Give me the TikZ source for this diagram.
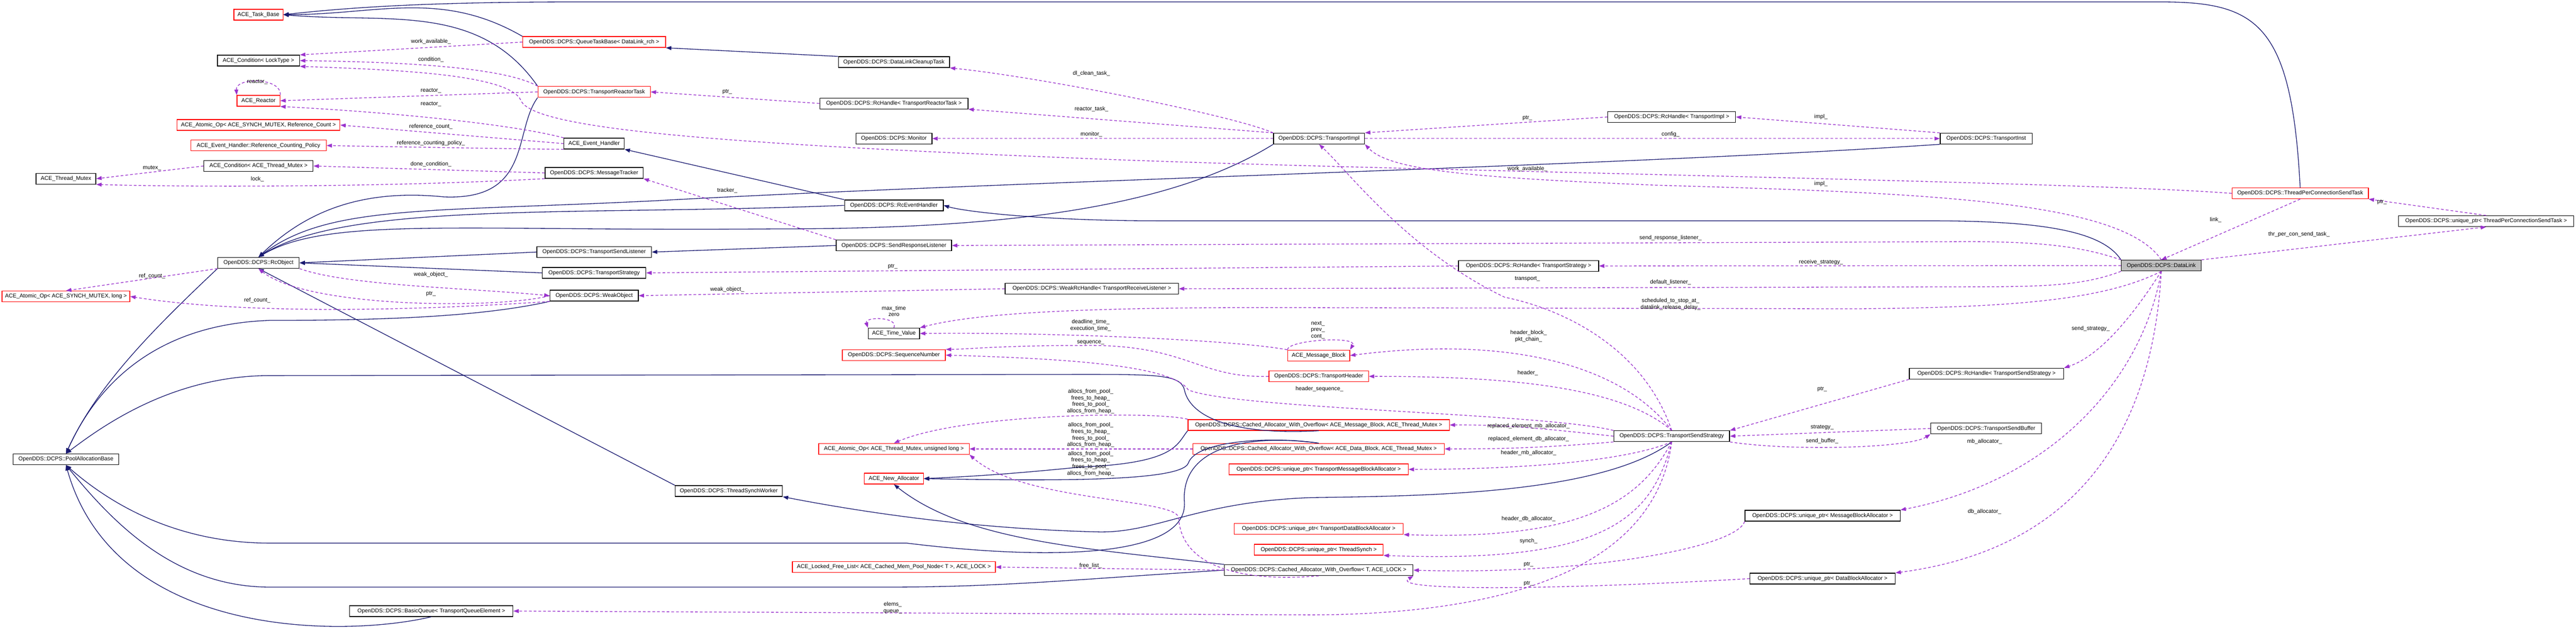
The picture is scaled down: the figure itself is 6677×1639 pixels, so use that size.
\documentclass[tikz,border=0pt]{standalone}
\usepackage{fontspec}
\setmainfont{Liberation Sans}
\usetikzlibrary{arrows.meta}
\definecolor{inhc}{HTML}{191970}
\definecolor{depc}{HTML}{9A32CD}
\begin{document}
\begin{tikzpicture}[x=0.01cm,y=-0.01cm,
  bx/.style={draw=black,line width=0.5pt,minimum height=0.28cm,inner sep=0pt,font=\fontsize{4.1}{4.6}\selectfont,fill=white},
  rbx/.style={bx,draw=red},
  lb/.style={font=\fontsize{4.1}{4.8}\selectfont,align=center,inner sep=0pt},
  inh/.style={draw=inhc,line width=0.5pt,-{Triangle[length=0.14cm,width=0.1cm]}},
  dep/.style={draw=depc,line width=0.5pt,dash pattern=on 2pt off 1.5pt,-{Triangle[length=0.14cm,width=0.1cm]}}]
\useasboundingbox (0,0) rectangle (6677,1639);
% nodes
\node[rbx,minimum width=1.27cm] (taskbase) at (670,38) {ACE\_Task\_Base};
\node[rbx,minimum width=3.70cm] (qtb) at (1540,109) {OpenDDS::DCPS::QueueTaskBase< DataLink\_rch >};
\node[bx,minimum width=2.13cm] (condlock) at (670,157) {ACE\_Condition< LockType >};
\node[rbx,minimum width=1.11cm] (reactor) at (670,261) {ACE\_Reactor};
\node[rbx,minimum width=2.91cm] (trt) at (1540,238) {OpenDDS::DCPS::TransportReactorTask};
\node[rbx,minimum width=4.22cm] (aoref) at (670,324) {ACE\_Atomic\_Op< ACE\_SYNCH\_MUTEX, Reference\_Count >};
\node[rbx,minimum width=3.51cm] (rcp) at (670,377) {ACE\_Event\_Handler::Reference\_Counting\_Policy};
\node[bx,minimum width=1.56cm] (evh) at (1540,372) {ACE\_Event\_Handler};
\node[bx,minimum width=2.83cm] (condtm) at (670,430) {ACE\_Condition< ACE\_Thread\_Mutex >};
\node[bx,minimum width=1.55cm] (tmutex) at (171,463) {ACE\_Thread\_Mutex};
\node[bx,minimum width=2.54cm] (mtracker) at (1540,448) {OpenDDS::DCPS::MessageTracker};
\node[bx,minimum width=2.97cm] (tsl) at (1540,653) {OpenDDS::DCPS::TransportSendListener};
\node[bx,minimum width=2.11cm] (rcobj) at (670,681) {OpenDDS::DCPS::RcObject};
\node[bx,minimum width=2.68cm] (tstrat) at (1540,707) {OpenDDS::DCPS::TransportStrategy};
\node[rbx,minimum width=3.31cm] (aolong) at (171,768) {ACE\_Atomic\_Op< ACE\_SYNCH\_MUTEX, long >};
\node[bx,minimum width=2.29cm] (weakobj) at (1540,766) {OpenDDS::DCPS::WeakObject};
\node[bx,minimum width=2.73cm] (pab) at (171,1190) {OpenDDS::DCPS::PoolAllocationBase};
\node[bx,minimum width=4.23cm] (bq) at (1118,1583) {OpenDDS::DCPS::BasicQueue< TransportQueueElement >};
\node[bx,minimum width=2.88cm] (dlct) at (2317,161) {OpenDDS::DCPS::DataLinkCleanupTask};
\node[bx,minimum width=3.84cm] (rhtrt) at (2317,268) {OpenDDS::DCPS::RcHandle< TransportReactorTask >};
\node[bx,minimum width=1.97cm] (monitor) at (2317,359) {OpenDDS::DCPS::Monitor};
\node[bx,minimum width=2.36cm] (timpl) at (3419,359) {OpenDDS::DCPS::TransportImpl};
\node[bx,minimum width=2.56cm] (rceh) at (2317,532) {OpenDDS::DCPS::RcEventHandler};
\node[bx,minimum width=2.99cm] (srl) at (2317,636) {OpenDDS::DCPS::SendResponseListener};
\node[bx,minimum width=4.49cm] (wrh) at (2830,748) {OpenDDS::DCPS::WeakRcHandle< TransportReceiveListener >};
\node[bx,minimum width=1.33cm] (tv) at (2317,864) {ACE\_Time\_Value};
\node[rbx,minimum width=2.67cm] (seqn) at (2317,920) {OpenDDS::DCPS::SequenceNumber};
\node[rbx,minimum width=1.61cm] (mb) at (3418,921) {ACE\_Message\_Block};
\node[rbx,minimum width=2.58cm] (th) at (3418,975) {OpenDDS::DCPS::TransportHeader};
\node[rbx,minimum width=6.77cm] (camb) at (3418,1101) {OpenDDS::DCPS::Cached\_Allocator\_With\_Overflow< ACE\_Message\_Block, ACE\_Thread\_Mutex >};
\node[rbx,minimum width=6.51cm] (cadb) at (3418,1163) {OpenDDS::DCPS::Cached\_Allocator\_With\_Overflow< ACE\_Data\_Block, ACE\_Thread\_Mutex >};
\node[rbx,minimum width=4.64cm] (uptmba) at (3418,1216) {OpenDDS::DCPS::unique\_ptr< TransportMessageBlockAllocator >};
\node[rbx,minimum width=3.90cm] (aoul) at (2317,1163) {ACE\_Atomic\_Op< ACE\_Thread\_Mutex, unsigned long >};
\node[rbx,minimum width=1.53cm] (newalloc) at (2317,1240) {ACE\_New\_Allocator};
\node[bx,minimum width=2.78cm] (tsw) at (1889,1272) {OpenDDS::DCPS::ThreadSynchWorker};
\node[rbx,minimum width=4.38cm] (uptdba) at (3418,1370) {OpenDDS::DCPS::unique\_ptr< TransportDataBlockAllocator >};
\node[rbx,minimum width=3.34cm] (upts) at (3418,1424) {OpenDDS::DCPS::unique\_ptr< ThreadSynch >};
\node[bx,minimum width=4.89cm] (cat) at (3418,1477) {OpenDDS::DCPS::Cached\_Allocator\_With\_Overflow< T, ACE\_LOCK >};
\node[rbx,minimum width=5.26cm] (lfl) at (2317,1469) {ACE\_Locked\_Free\_List< ACE\_Cached\_Mem\_Pool\_Node< T >, ACE\_LOCK >};
\node[bx,minimum width=3.31cm] (rhti) at (4333,303) {OpenDDS::DCPS::RcHandle< TransportImpl >};
\node[bx,minimum width=2.38cm] (tinst) at (5148,359) {OpenDDS::DCPS::TransportInst};
\node[bx,minimum width=3.63cm] (rhts) at (3962,689) {OpenDDS::DCPS::RcHandle< TransportStrategy >};
\node[bx,minimum width=3.00cm] (tss) at (4333,1130) {OpenDDS::DCPS::TransportSendStrategy};
\node[bx,minimum width=4.00cm] (rhtss) at (5149,968) {OpenDDS::DCPS::RcHandle< TransportSendStrategy >};
\node[bx,minimum width=2.87cm] (tsb) at (5148,1110) {OpenDDS::DCPS::TransportSendBuffer};
\node[bx,minimum width=4.02cm] (upmba) at (4724,1336) {OpenDDS::DCPS::unique\_ptr< MessageBlockAllocator >};
\node[bx,minimum width=3.76cm] (updba) at (4724,1499) {OpenDDS::DCPS::unique\_ptr< DataBlockAllocator >};
\node[rbx,minimum width=3.53cm] (tpcst) at (5962,501) {OpenDDS::DCPS::ThreadPerConnectionSendTask};
\node[bx,minimum width=4.54cm] (uptpcst) at (6444,573) {OpenDDS::DCPS::unique\_ptr< ThreadPerConnectionSendTask >};
\node[bx,minimum width=2.07cm,fill=black!25] (datalink) at (5602,688) {OpenDDS::DCPS::DataLink};
% inheritance
\draw[inh] (qtb.north west) to[out=150,in=0] (taskbase.east);
\draw[inh] (trt.north west) to[out=125,in=-5] (taskbase.east);
\draw[inh] (tpcst.north) .. controls (5940,60) and (5850,5) .. (5600,5) -- (1500,5) .. controls (1100,5) and (900,20) .. (taskbase.east);
\draw[inh] (dlct.north west) -- (qtb.south east);
\draw[inh] (trt.south west) .. controls (1330,340) and (1380,520) .. (1150,510) .. controls (950,490) and (800,540) .. (rcobj.north);
\draw[inh] (rceh.north west) -- (evh.south east);
\draw[inh] (rceh.west) .. controls (1500,560) and (900,520) .. (rcobj.north);
\draw[inh] (timpl.south west) .. controls (3000,560) and (2500,593) .. (2000,593) .. controls (1200,600) and (850,560) .. (rcobj.north);
\draw[inh] (tinst.south west) .. controls (4200,430) and (2600,470) .. (1700,520) .. controls (1100,550) and (850,530) .. (rcobj.north);
\draw[inh] (srl.west) -- (tsl.east);
\draw[inh] (tsl.west) -- (rcobj.east);
\draw[inh] (tstrat.west) -- (rcobj.east);
\draw[inh] (datalink.north west) .. controls (5450,600) and (5300,572) .. (5000,572) -- (3000,572) .. controls (2700,572) and (2500,548) .. (rceh.east);
\draw[inh] (tsw.north west) -- (rcobj.south);
\draw[inh] (rcobj.south west) .. controls (400,850) and (250,1000) .. (pab.north);
\draw[inh] (weakobj.south west) .. controls (1250,820) and (1000,830) .. (700,830) .. controls (400,840) and (250,1000) .. (pab.north);
\draw[inh] (camb.south) .. controls (3150,1130) and (3080,1060) .. (3070,1010) .. controls (3060,970) and (3000,970) .. (2800,970) -- (700,973) .. controls (450,973) and (270,1100) .. (pab.north);
\draw[inh] (cadb.north) .. controls (3250,1125) and (3060,1150) .. (3070,1300) .. controls (3080,1450) and (2700,1450) .. (2350,1407) -- (700,1407) .. controls (450,1407) and (280,1300) .. (pab.south);
\draw[inh] (cat.west) .. controls (2800,1500) and (2600,1521) .. (2300,1521) -- (700,1521) .. controls (450,1521) and (290,1350) .. (pab.south);
\draw[inh] (bq.south) .. controls (900,1650) and (300,1660) .. (pab.south);
\draw[inh] (camb.south west) .. controls (3050,1150) and (3050,1200) .. (2800,1210) .. controls (2600,1230) and (2500,1235) .. (newalloc.east);
\draw[inh] (cadb.north) .. controls (3300,1130) and (3100,1140) .. (3080,1200) .. controls (3060,1250) and (2700,1245) .. (newalloc.east);
\draw[inh] (cat.north west) .. controls (2800,1420) and (2500,1400) .. (newalloc.south);
\draw[inh] (tss.south) .. controls (4150,1280) and (3700,1285) .. (3400,1289) .. controls (3100,1300) and (3000,1380) .. (2850,1378) .. controls (2500,1370) and (2200,1320) .. (tsw.south east);
% dependencies
\draw[dep] (qtb.west) -- (condlock.north east);
\draw[dep] (trt.north west) .. controls (1300,170) and (1000,160) .. (condlock.east);
\draw[dep] (tpcst.west) .. controls (5400,470) and (3500,440) .. (2800,410) .. controls (1800,370) and (1380,330) .. (1350,260) .. controls (1320,190) and (1000,180) .. (condlock.south east);
\draw[dep] (reactor.north east) .. controls (730,200) and (610,200) .. (reactor.north west);
\draw[dep] (trt.west) -- (reactor.east);
\draw[dep] (evh.north west) .. controls (1320,320) and (1000,290) .. (reactor.south east);
\draw[dep] (evh.west) -- (aoref.east);
\draw[dep] (evh.south west) .. controls (1300,385) and (1000,380) .. (rcp.east);
\draw[dep] (mtracker.west) -- (condtm.east);
\draw[dep] (condtm.west) -- (tmutex.east);
\draw[dep] (mtracker.south west) .. controls (1000,485) and (500,485) .. (tmutex.south east);
\draw[dep] (rcobj.south west) -- (aolong.north);
\draw[dep] (weakobj.south west) .. controls (1000,810) and (600,810) .. (aolong.east);
\draw[dep] (rcobj.south east) .. controls (900,740) and (1200,745) .. (weakobj.west);
\draw[dep] (weakobj.west) .. controls (1300,800) and (800,800) .. (rcobj.south);
\draw[dep] (rhtrt.west) -- (trt.east);
\draw[dep] (timpl.north west) .. controls (3200,300) and (2700,200) .. (dlct.south east);
\draw[dep] (timpl.north west) -- (rhtrt.south east);
\draw[dep] (timpl.west) -- (monitor.east);
\draw[dep] (srl.north west) -- (mtracker.south east);
\draw[dep] (rhts.west) -- (tstrat.east);
\draw[dep] (wrh.west) -- (weakobj.east);
\draw[dep] (tv.north) .. controls (2330,820) and (2240,820) .. (tv.north west);
\draw[dep] (mb.north west) .. controls (3200,880) and (2700,860) .. (tv.east);
\draw[dep] (mb.north west) .. controls (3340,880) and (3520,870) .. (mb.north east);
\draw[dep] (th.west) .. controls (3100,980) and (3080,890) .. (2800,895) .. controls (2600,895) and (2500,905) .. (seqn.north east);
\draw[dep] (tss.north west) .. controls (4000,1070) and (3200,1060) .. (3080,1010) .. controls (3040,950) and (2800,930) .. (seqn.east);
\draw[dep] (tss.north) .. controls (4200,940) and (3900,870) .. (mb.east);
\draw[dep] (tss.north) .. controls (4200,1000) and (3900,975) .. (th.east);
\draw[dep] (tss.west) .. controls (4000,1110) and (3900,1100) .. (camb.east);
\draw[dep] (tss.south west) .. controls (4000,1160) and (3900,1163) .. (cadb.east);
\draw[dep] (tss.south) .. controls (4200,1200) and (3900,1216) .. (uptmba.east);
\draw[dep] (tss.south) .. controls (4250,1300) and (4100,1400) .. (uptdba.south east);
\draw[dep] (tss.south) .. controls (4280,1350) and (4150,1460) .. (upts.south east);
\draw[dep] (tss.south) .. controls (4300,1400) and (4050,1590) .. (3400,1593) -- (bq.east);
\draw[dep] (tss.north) .. controls (4260,900) and (4050,800) .. (3900,770) .. controls (3650,650) and (3500,450) .. (timpl.south);
\draw[dep] (camb.north west) .. controls (3000,1065) and (2500,1070) .. (aoul.north);
\draw[dep] (cadb.west) -- (aoul.east);
\draw[dep] (cat.south) .. controls (3200,1510) and (3060,1460) .. (3055,1340) .. controls (3040,1290) and (2650,1300) .. (aoul.south east);
\draw[dep] (cat.west) -- (lfl.east);
\draw[dep] (upmba.south west) .. controls (4500,1420) and (4100,1490) .. (cat.east);
\draw[dep] (updba.west) .. controls (4000,1530) and (3600,1530) .. (cat.south east);
\draw[dep] (rhtss.south west) -- (tss.north east);
\draw[dep] (tsb.west) -- (tss.east);
\draw[dep] (tss.south east) .. controls (4650,1170) and (4950,1160) .. (tsb.south west);
\draw[dep] (rhti.west) -- (timpl.north east);
\draw[dep] (tinst.north west) -- (rhti.east);
\draw[dep] (timpl.east) -- (tinst.west);
\draw[dep] (datalink.north) .. controls (5500,520) and (5000,500) .. (4300,480) .. controls (3800,460) and (3600,440) .. (timpl.south east);
\draw[dep] (datalink.north west) .. controls (5400,640) and (5300,626) .. (5100,626) -- (srl.east);
\draw[dep] (datalink.west) -- (rhts.east);
\draw[dep] (datalink.south west) .. controls (5400,740) and (5300,743) .. (5100,743) -- (wrh.east);
\draw[dep] (datalink.south) .. controls (5450,780) and (5200,797) .. (4800,800) -- (3400,797) .. controls (2900,795) and (2550,805) .. (tv.north east);
\draw[dep] (datalink.south) .. controls (5540,800) and (5450,920) .. (rhtss.north east);
\draw[dep] (datalink.south) .. controls (5550,1000) and (5300,1250) .. (upmba.north east);
\draw[dep] (datalink.south) .. controls (5580,1100) and (5400,1420) .. (updba.north east);
\draw[dep] (datalink.north east) -- (uptpcst.south);
\draw[dep] (tpcst.south) -- (datalink.north);
\draw[dep] (uptpcst.north) -- (tpcst.south east);
% labels
\node[lb] (l1) at (1117,108) {work\_available\_};
\node[lb] (l2) at (1117,154) {condition\_};
\node[lb] (l3) at (667,212) {reactor\_};
\node[lb] (l4) at (1117,235) {reactor\_};
\node[lb] (l5) at (1117,270) {reactor\_};
\node[lb] (l6) at (1117,328) {reference\_count\_};
\node[lb] (l7) at (1117,371) {reference\_counting\_policy\_};
\node[lb] (l8) at (1117,426) {done\_condition\_};
\node[lb] (l9) at (394,436) {mutex\_};
\node[lb] (l10) at (667,464) {lock\_};
\node[lb] (l11) at (394,715) {ref\_count\_};
\node[lb] (l12) at (1117,712) {weak\_object\_};
\node[lb] (l13) at (1117,761) {ptr\_};
\node[lb] (l14) at (667,778) {ref\_count\_};
\node[lb] (l15) at (1885,238) {ptr\_};
\node[lb] (l16) at (2829,190) {dl\_clean\_task\_};
\node[lb] (l17) at (2829,283) {reactor\_task\_};
\node[lb] (l18) at (2829,348) {monitor\_};
\node[lb] (l19) at (1885,493) {tracker\_};
\node[lb] (l20) at (2314,690) {ptr\_};
\node[lb] (l21) at (1885,750) {weak\_object\_};
\node[lb] (l22) at (2317,806) {max\_time\\zero};
\node[lb] (l23) at (2827,843) {deadline\_time\_\\execution\_time\_};
\node[lb] (l24) at (2827,887) {sequence\_};
\node[lb] (l25) at (3420,1008) {header\_sequence\_};
\node[lb] (l26) at (2827,1040) {allocs\_from\_pool\_\\frees\_to\_heap\_\\frees\_to\_pool\_\\allocs\_from\_heap\_};
\node[lb] (l27) at (2827,1127) {allocs\_from\_pool\_\\frees\_to\_heap\_\\frees\_to\_pool\_\\allocs\_from\_heap\_};
\node[lb] (l28) at (2827,1201) {allocs\_from\_pool\_\\frees\_to\_heap\_\\frees\_to\_pool\_\\allocs\_from\_heap\_};
\node[lb] (l29) at (2827,1466) {free\_list\_};
\node[lb] (l30) at (2314,1575) {elems\_\\queue\_};
\node[lb] (l31) at (3959,306) {ptr\_};
\node[lb] (l32) at (4720,303) {impl\_};
\node[lb] (l33) at (4330,348) {config\_};
\node[lb] (l34) at (3959,438) {work\_available\_};
\node[lb] (l35) at (4720,476) {impl\_};
\node[lb] (l36) at (4330,616) {send\_response\_listener\_};
\node[lb] (l37) at (4720,679) {receive\_strategy\_};
\node[lb] (l38) at (3959,723) {transport\_};
\node[lb] (l39) at (4330,732) {default\_listener\_};
\node[lb] (l40) at (4330,788) {scheduled\_to\_stop\_at\_\\datalink\_release\_delay\_};
\node[lb] (l41) at (3416,855) {next\_\\prev\_\\cont\_};
\node[lb] (l42) at (3962,871) {header\_block\_\\pkt\_chain\_};
\node[lb] (l43) at (3960,967) {header\_};
\node[lb] (l44) at (3962,1104) {replaced\_element\_mb\_allocator\_};
\node[lb] (l45) at (3962,1138) {replaced\_element\_db\_allocator\_};
\node[lb] (l46) at (3962,1174) {header\_mb\_allocator\_};
\node[lb] (l47) at (3962,1344) {header\_db\_allocator\_};
\node[lb] (l48) at (3962,1402) {synch\_};
\node[lb] (l49) at (3962,1462) {ptr\_};
\node[lb] (l50) at (3962,1512) {ptr\_};
\node[lb] (l51) at (4723,1008) {ptr\_};
\node[lb] (l52) at (4723,1107) {strategy\_};
\node[lb] (l53) at (4723,1143) {send\_buffer\_};
\node[lb] (l54) at (5419,851) {send\_strategy\_};
\node[lb] (l55) at (5144,1144) {mb\_allocator\_};
\node[lb] (l56) at (5144,1326) {db\_allocator\_};
\node[lb] (l57) at (5743,570) {link\_};
\node[lb] (l58) at (6174,523) {ptr\_};
\node[lb] (l59) at (5959,607) {thr\_per\_con\_send\_task\_};
\end{tikzpicture}
\end{document}
